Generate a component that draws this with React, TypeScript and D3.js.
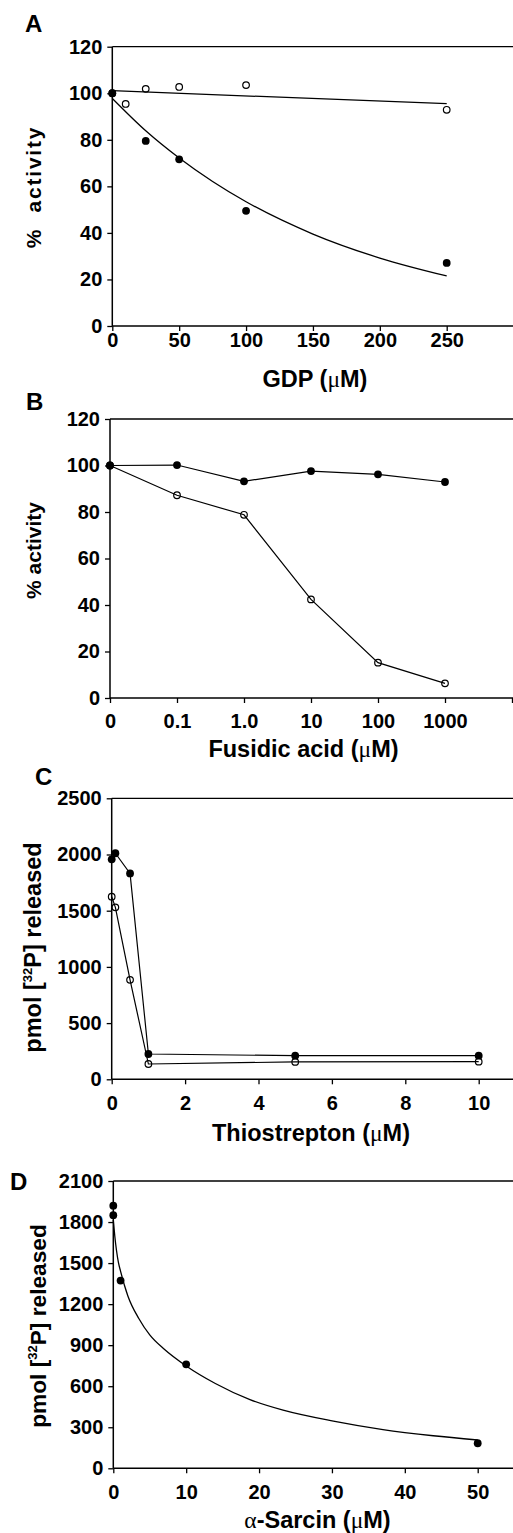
import React, { useRef, useEffect } from "react";
import { select, scaleLinear, axisLeft, axisBottom, line, curveMonotoneX, curveLinear } from "d3";

const W = 513;
const H = 1533;
const FONT = "'Liberation Sans', Arial, Helvetica, sans-serif";
const SYM = "'Liberation Serif', 'Times New Roman', serif";

// A: GDP
const gdpDoses = [0, 25, 50, 100, 250];
const gdpFilled = [100, 79.5, 71.6, 49.5, 27.1];
const gdpOpenDoses = [0, 10, 25, 50, 100, 250];
const gdpOpen = [100, 95.4, 101.9, 102.7, 103.5, 92.9];
const gdpFitOpenDoses = [0, 250];
const gdpFitOpen = [101.1, 95.5];
const gdpFitFilledDoses = [0, 25, 50, 75, 100, 150, 200, 250];
const gdpFitFilled = [97.8, 83.9, 72.2, 62.1, 53.4, 39.5, 29.2, 21.5];
const gdpTicks = [0, 50, 100, 150, 200, 250];
const pctTicks = [0, 20, 40, 60, 80, 100, 120];

// B: fusidic acid (categorical log doses)
const fusCategories = ["0", "0.1", "1.0", "10", "100", "1000"];
const fusFilled = [100, 100.2, 93.2, 97.6, 96.2, 92.9];
const fusOpen = [100, 87.2, 78.8, 42.4, 15.2, 6.3];

// C: thiostrepton
const thioDoses = [0, 0.1, 0.5, 1, 5, 10];
const thioFilled = [1957, 2011, 1832, 225, 210, 210];
const thioOpen = [1625, 1530, 885, 136, 155, 157];
const thioTicks = [0, 2, 4, 6, 8, 10];
const thioYTicks = [0, 500, 1000, 1500, 2000, 2500];

// D: alpha-sarcin
const sarcinDoses = [0, 0, 1, 10, 50];
const sarcinPmol = [1920, 1850, 1372, 760, 183];
const sarcinFitDoses = [0, 0.2, 0.7, 1, 2, 3.5, 5, 7, 10, 14, 18.75, 23.3, 30.2, 37, 43.9, 50];
const sarcinFit = [1815, 1700, 1505, 1440, 1260, 1095, 975, 870, 748, 620, 502, 425, 345, 283, 238, 207];
const sarcinTicks = [0, 10, 20, 30, 40, 50];
const sarcinYTicks = [0, 300, 600, 900, 1200, 1500, 1800, 2100];

type Series = { xs: number[]; ys: number[]; filled: boolean; connect: boolean };
type Fit = { xs: number[]; ys: number[]; linear?: boolean };

type PanelProps = {
  label: string;
  labelX: number;
  labelY: number;
  top: number;
  bottom: number;
  left: number;
  xDomain: [number, number];
  xRange: [number, number];
  xTicks: number[];
  xFormat: (d: number) => string;
  xPad: number;
  yMax: number;
  yTicks: number[];
  xTitle: React.ReactNode;
  xTitleX: number;
  xTitleY: number;
  yTitle: React.ReactNode;
  yTitleX: number;
  yTitleY: number;
  yTitleSize: number;
  yTitleSpacing?: number;
  series: Series[];
  fits: Fit[];
};

const Panel = (p: PanelProps) => {
  const xAxisRef = useRef<SVGGElement>(null);
  const yAxisRef = useRef<SVGGElement>(null);
  const x = scaleLinear().domain(p.xDomain).range(p.xRange);
  const y = scaleLinear().domain([0, p.yMax]).range([p.bottom, p.top]);

  useEffect(() => {
    const xa = select(xAxisRef.current);
    xa.call(
      axisBottom(x).tickValues(p.xTicks).tickSize(5).tickPadding(p.xPad).tickFormat((d: any) => p.xFormat(d))
    );
    xa.select(".domain").remove();
    const ya = select(yAxisRef.current);
    ya.call(axisLeft(y).tickValues(p.yTicks).tickSize(5).tickPadding(5).tickFormat((d: any) => String(d)));
    ya.select(".domain").remove();
    [xa, ya].forEach(g => {
      g.selectAll("line").attr("stroke", "#000").attr("stroke-width", 1.3);
      g.selectAll("text")
        .attr("fill", "#000")
        .style("font-family", FONT)
        .style("font-weight", "bold")
        .style("font-size", "20px");
    });
  }, []);

  const mk = (xs: number[], ys: number[], linear: boolean) =>
    line<number>()
      .x((_, i) => x(xs[i]))
      .y(d => y(d))
      .curve(linear ? curveLinear : curveMonotoneX)(ys) || "";

  return (
    <g>
      <text x={p.labelX} y={p.labelY} fontFamily={FONT} fontWeight="bold" fontSize={24}>
        {p.label}
      </text>
      <line x1={p.left} x2={W} y1={p.top} y2={p.top} stroke="#000" strokeWidth={1.3} />
      <line x1={p.left} x2={W} y1={p.bottom} y2={p.bottom} stroke="#000" strokeWidth={1.5} />
      <line x1={p.left} x2={p.left} y1={p.top} y2={p.bottom} stroke="#000" strokeWidth={1.5} />
      <g ref={xAxisRef} transform={`translate(0,${p.bottom})`} />
      <g ref={yAxisRef} transform={`translate(${p.left},0)`} />
      {p.fits.map((f, i) => (
        <path key={"f" + i} d={mk(f.xs, f.ys, !!f.linear)} fill="none" stroke="#000" strokeWidth={1.3} />
      ))}
      {p.series.map((s, i) =>
        s.connect ? (
          <path key={"l" + i} d={mk(s.xs, s.ys, true)} fill="none" stroke="#000" strokeWidth={1.2} />
        ) : null
      )}
      {p.series.map((s, i) => (
        <g key={"s" + i}>
          {s.ys.map((v, j) =>
            s.filled ? (
              <circle key={j} cx={x(s.xs[j])} cy={y(v)} r={3.9} fill="#000" />
            ) : (
              <circle key={j} cx={x(s.xs[j])} cy={y(v)} r={3.3} fill="none" stroke="#000" strokeWidth={1.2} />
            )
          )}
        </g>
      ))}
      <text
        x={p.xTitleX}
        y={p.xTitleY}
        textAnchor="middle"
        fontFamily={FONT}
        fontWeight="bold"
        fontSize={23.5}
      >
        {p.xTitle}
      </text>
      <text
        transform={`translate(${p.yTitleX},${p.yTitleY}) rotate(-90)`}
        textAnchor="middle"
        fontFamily={FONT}
        fontWeight="bold"
        fontSize={p.yTitleSize}
        letterSpacing={p.yTitleSpacing ?? 0}
        style={{ whiteSpace: "pre" }}
      >
        {p.yTitle}
      </text>
    </g>
  );
};

const mu = (
  <tspan fontFamily={SYM} fontWeight="normal">
    μ
  </tspan>
);

const pmolTitle = (
  <>
    pmol [<tspan fontSize={13} dy={-9}>32</tspan>
    <tspan dy={9}>P] released</tspan>
  </>
);

const fusIdx = fusCategories.map((_, i) => i);

export default function App() {
  return (
    <svg width={W} height={H} style={{ position: "absolute", left: 0, top: 0, background: "#fff" }}>
      <Panel
        label="A"
        labelX={25}
        labelY={32}
        top={46.7}
        bottom={326}
        left={112.3}
        xDomain={[0, 250]}
        xRange={[112.3, 446.7]}
        xTicks={gdpTicks}
        xFormat={d => String(d)}
        xPad={2}
        yMax={120}
        yTicks={pctTicks}
        xTitle={<>GDP ({mu}M)</>}
        xTitleX={315}
        xTitleY={387}
        yTitle={"%\u00a0 activity"}
        yTitleX={41}
        yTitleY={187}
        yTitleSize={21}
        yTitleSpacing={1.8}
        series={[
          { xs: gdpOpenDoses, ys: gdpOpen, filled: false, connect: false },
          { xs: gdpDoses, ys: gdpFilled, filled: true, connect: false },
        ]}
        fits={[
          { xs: gdpFitOpenDoses, ys: gdpFitOpen, linear: true },
          { xs: gdpFitFilledDoses, ys: gdpFitFilled },
        ]}
      />
      <Panel
        label="B"
        labelX={26}
        labelY={410}
        top={419}
        bottom={698}
        left={110}
        xDomain={[0, 5]}
        xRange={[110, 445]}
        xTicks={[...fusIdx, fusIdx.length]}
        xFormat={d => fusCategories[d] ?? ""}
        xPad={11}
        yMax={120}
        yTicks={pctTicks}
        xTitle={<>Fusidic acid ({mu}M)</>}
        xTitleX={303.5}
        xTitleY={756.7}
        yTitle={"% activity"}
        yTitleX={41}
        yTitleY={550.5}
        yTitleSize={21}
        series={[
          { xs: fusIdx, ys: fusOpen, filled: false, connect: true },
          { xs: fusIdx, ys: fusFilled, filled: true, connect: true },
        ]}
        fits={[]}
      />
      <Panel
        label="C"
        labelX={35}
        labelY={785}
        top={798.3}
        bottom={1079.3}
        left={111.7}
        xDomain={[0, 10]}
        xRange={[111.7, 478.7]}
        xTicks={thioTicks}
        xFormat={d => String(d)}
        xPad={11.5}
        yMax={2500}
        yTicks={thioYTicks}
        xTitle={<>Thiostrepton ({mu}M)</>}
        xTitleX={311}
        xTitleY={1141}
        yTitle={pmolTitle}
        yTitleX={41}
        yTitleY={947.5}
        yTitleSize={23.5}
        series={[
          { xs: thioDoses, ys: thioOpen, filled: false, connect: true },
          { xs: thioDoses, ys: thioFilled, filled: true, connect: true },
        ]}
        fits={[]}
      />
      <Panel
        label="D"
        labelX={10}
        labelY={1190}
        top={1181}
        bottom={1468.3}
        left={113.3}
        xDomain={[0, 50]}
        xRange={[113.3, 477.7]}
        xTicks={sarcinTicks}
        xFormat={d => String(d)}
        xPad={12}
        yMax={2100}
        yTicks={sarcinYTicks}
        xTitle={
          <>
            <tspan fontFamily={SYM} fontWeight="normal">α</tspan>-Sarcin ({mu}M)
          </>
        }
        xTitleX={317.5}
        xTitleY={1528}
        yTitle={pmolTitle}
        yTitleX={46}
        yTitleY={1326}
        yTitleSize={22.7}
        series={[{ xs: sarcinDoses, ys: sarcinPmol, filled: true, connect: false }]}
        fits={[{ xs: sarcinFitDoses, ys: sarcinFit }]}
      />
    </svg>
  );
}
